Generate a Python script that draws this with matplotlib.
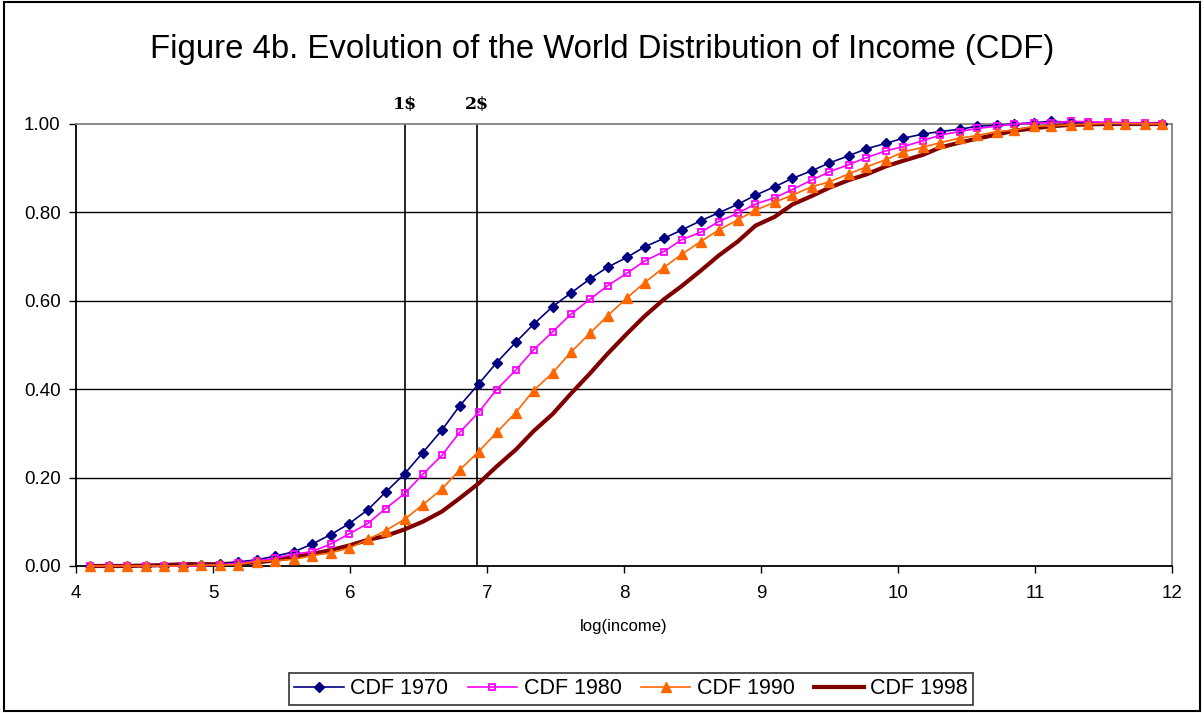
import matplotlib
matplotlib.use("Agg")
import matplotlib.pyplot as plt
from matplotlib.patches import Rectangle

plt.rcParams["font.family"] = ["Liberation Sans", "DejaVu Sans"]

# --- data (log income grid, 59 points) ---
log_income = [4.10, 4.24, 4.37, 4.51, 4.64, 4.78, 4.91, 5.05, 5.18, 5.32,
              5.45, 5.59, 5.72, 5.86, 5.99, 6.13, 6.26, 6.40, 6.53, 6.67,
              6.80, 6.94, 7.07, 7.21, 7.34, 7.48, 7.61, 7.75, 7.88, 8.02,
              8.15, 8.29, 8.42, 8.56, 8.69, 8.83, 8.96, 9.10, 9.23, 9.37,
              9.50, 9.64, 9.77, 9.91, 10.04, 10.18, 10.31, 10.45, 10.58, 10.72,
              10.85, 10.99, 11.12, 11.26, 11.39, 11.53, 11.66, 11.80, 11.93]

cdf_1970 = [0.0, 0.0, 0.0, 0.0, 0.001, 0.001, 0.002, 0.004, 0.009, 0.014,
            0.022, 0.032, 0.049, 0.071, 0.095, 0.127, 0.167, 0.209, 0.256, 0.307,
            0.362, 0.412, 0.460, 0.506, 0.547, 0.587, 0.617, 0.649, 0.676, 0.698,
            0.722, 0.741, 0.760, 0.781, 0.799, 0.818, 0.839, 0.858, 0.877, 0.894,
            0.912, 0.928, 0.944, 0.956, 0.968, 0.977, 0.983, 0.988, 0.995, 0.997,
            1.000, 1.003, 1.006, 1.004, 1.002, 1.001, 1.000, 1.000, 1.000]

cdf_1980 = [0.0, 0.0, 0.0, 0.0, 0.0, 0.0, 0.0, 0.003, 0.006, 0.012,
            0.017, 0.027, 0.032, 0.050, 0.072, 0.096, 0.130, 0.164, 0.207, 0.250,
            0.302, 0.348, 0.399, 0.443, 0.489, 0.530, 0.569, 0.603, 0.634, 0.662,
            0.690, 0.711, 0.738, 0.755, 0.779, 0.798, 0.819, 0.833, 0.852, 0.873,
            0.892, 0.908, 0.924, 0.939, 0.949, 0.962, 0.975, 0.983, 0.990, 0.995,
            1.000, 1.002, 1.003, 1.006, 1.005, 1.004, 1.003, 1.002, 1.001]

cdf_1990 = [0.0, 0.0, 0.0, 0.0, 0.0, 0.0, 0.002, 0.002, 0.003, 0.010,
            0.012, 0.015, 0.023, 0.030, 0.040, 0.060, 0.080, 0.106, 0.138, 0.174,
            0.217, 0.259, 0.302, 0.347, 0.397, 0.437, 0.483, 0.526, 0.566, 0.606,
            0.641, 0.675, 0.705, 0.734, 0.760, 0.783, 0.805, 0.823, 0.839, 0.858,
            0.869, 0.887, 0.903, 0.919, 0.937, 0.947, 0.958, 0.968, 0.974, 0.983,
            0.986, 0.995, 0.996, 0.998, 1.000, 1.001, 1.001, 1.000, 1.000]

cdf_1998 = [0.0, 0.0, 0.0, 0.001, 0.002, 0.004, 0.004, 0.004, 0.006, 0.008,
            0.013, 0.020, 0.027, 0.036, 0.046, 0.059, 0.068, 0.083, 0.100, 0.123,
            0.153, 0.187, 0.225, 0.263, 0.305, 0.344, 0.389, 0.435, 0.480, 0.525,
            0.565, 0.603, 0.633, 0.668, 0.702, 0.734, 0.770, 0.790, 0.818, 0.837,
            0.856, 0.873, 0.886, 0.904, 0.917, 0.930, 0.947, 0.958, 0.967, 0.976,
            0.985, 0.990, 0.995, 0.998, 0.999, 1.000, 1.000, 1.000, 1.000]

# poverty lines (1$ and 2$ a day) in log income
poverty_x = [6.40, 6.93]
poverty_labels = ["1$", "2$"]

x_ticks = [4, 5, 6, 7, 8, 9, 10, 11, 12]
y_ticks = [0.0, 0.2, 0.4, 0.6, 0.8, 1.0]

# --- figure ---
fig = plt.figure(figsize=(12.04, 7.13), dpi=100)
fig.patches.append(Rectangle((0.003, 0.003), 0.994, 0.994, transform=fig.transFigure,
                             fill=False, edgecolor="black", linewidth=1.5))

ax = fig.add_axes([0.0631, 0.2062, 0.9103, 0.6199])

for y in y_ticks[1:-1]:
    ax.axhline(y, color="black", linewidth=1.0, zorder=1)

for px in poverty_x:
    ax.plot([px, px], [0, 1], color="black", linewidth=1.2, zorder=2)
for px, lab in zip(poverty_x, poverty_labels):
    ax.text(px, 1.045, lab, ha="center", va="center", fontsize=12.5,
            fontweight="bold", family=["DejaVu Serif"])

l98, = ax.plot(log_income, cdf_1998, color="#800000", linewidth=3.0,
               zorder=3, clip_on=False, label="CDF 1998")
l70, = ax.plot(log_income, cdf_1970, color="#000080", linewidth=1.2, marker="D",
               markersize=5, zorder=4, clip_on=False, label="CDF 1970")
l80, = ax.plot(log_income, cdf_1980, color="#FF00FF", linewidth=1.2, marker="s",
               markersize=5, markerfacecolor="none", markeredgewidth=1.3,
               zorder=4, clip_on=False, label="CDF 1980")
l90, = ax.plot(log_income, cdf_1990, color="#FF6600", linewidth=1.2, marker="^",
               markersize=7, zorder=4, clip_on=False, label="CDF 1990")

ax.set_xlim(4, 12)
ax.set_ylim(0, 1.0)
ax.set_xticks(x_ticks)
ax.set_yticks(y_ticks)
ax.set_yticklabels([f"{v:.2f}" for v in y_ticks])
ax.tick_params(axis="both", direction="out", length=5, width=1.0, labelsize=13.5,
               color="black")
ax.tick_params(axis="x", pad=9)
ax.tick_params(axis="y", pad=6)

for side in ["left", "bottom"]:
    ax.spines[side].set_color("black")
    ax.spines[side].set_linewidth(1.3)
for side in ["top", "right"]:
    ax.spines[side].set_color("#808080")
    ax.spines[side].set_linewidth(1.3)

ax.set_xlabel("log(income)", fontsize=12, labelpad=12)

fig.text(0.5, 0.931, "Figure 4b. Evolution of the World Distribution of Income (CDF)",
         ha="center", va="center", fontsize=23.7)

leg = fig.legend(handles=[l70, l80, l90, l98], loc="center", bbox_to_anchor=(0.524, 0.034),
                 ncol=4, fontsize=15.5, frameon=True, fancybox=False, handlelength=2.3,
                 handletextpad=0.3, columnspacing=0.9, borderpad=0.25)
leg.get_frame().set_edgecolor("black")
leg.get_frame().set_linewidth(1.2)

fig.savefig("out.png", dpi=100)
